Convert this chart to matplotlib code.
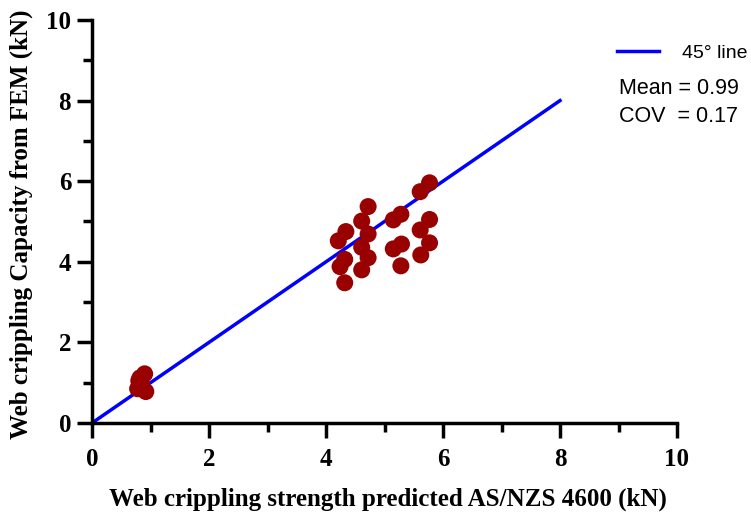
import numpy as np
import matplotlib.pyplot as plt
from matplotlib.ticker import MultipleLocator

# AS/NZS 4600 predicted strength (kN) vs FEM capacity (kN)
pred_kN = [0.80, 0.90, 0.78, 0.92, 0.85, 0.82,
           4.32, 4.24, 4.32, 4.21, 4.34, 4.61, 4.72, 4.72, 4.61, 4.72, 4.61,
           5.15, 5.28, 5.15, 5.29, 5.28, 5.61, 5.77, 5.61, 5.77, 5.62, 5.77]
fem_kN = [1.05, 1.22, 0.85, 0.78, 0.95, 1.12,
          3.48, 3.88, 4.06, 4.52, 4.75, 5.01, 5.37, 4.69, 4.36, 4.10, 3.80,
          5.04, 5.18, 4.32, 4.44, 3.90, 5.74, 5.96, 4.79, 5.05, 4.17, 4.47]
line_x = [0, 8]
line_y = [0, 8]
mean_val = 0.99
cov_val = 0.17

plt.rcParams['font.family'] = ['Liberation Serif', 'DejaVu Serif']

fig = plt.figure(figsize=(7.51, 5.16), dpi=100)
ax = fig.add_axes([92 / 751, 1 - 423 / 516, 585 / 751, 403 / 516])

ax.plot(line_x, line_y, color='#0000ff', lw=2.5, label='45° line', zorder=2)
ax.scatter(pred_kN, fem_kN, s=150, color='#990000', edgecolors='none', zorder=3)

ax.set_xlim(0, 10)
ax.set_ylim(0, 10)
ax.xaxis.set_major_locator(MultipleLocator(2))
ax.yaxis.set_major_locator(MultipleLocator(2))
ax.xaxis.set_minor_locator(MultipleLocator(1))
ax.yaxis.set_minor_locator(MultipleLocator(1))

for s in ['top', 'right']:
    ax.spines[s].set_visible(False)
for s in ['left', 'bottom']:
    ax.spines[s].set_linewidth(2.5)
ax.tick_params(which='major', length=11, width=2.5, labelsize=18)
ax.tick_params(which='minor', length=6.5, width=2.5)
ax.tick_params(axis='x', which='major', pad=7)
ax.tick_params(axis='y', which='major', pad=4)
for lab in ax.get_xticklabels() + ax.get_yticklabels():
    lab.set_fontweight('bold')

ax.set_xlabel('Web crippling strength predicted AS/NZS 4600 (kN)',
              fontsize=18, fontweight='bold')
ax.set_ylabel('Web crippling Capacity from FEM (kN)',
              fontsize=18, fontweight='bold')
ax.xaxis.set_label_coords(0.506, -0.161)
ax.yaxis.set_label_coords(-0.101, 0.4925)

ax.legend(loc='center left', bbox_to_anchor=(617 / 751, 1 - 53 / 516),
          bbox_transform=fig.transFigure, frameon=False, borderpad=0,
          borderaxespad=0, handlelength=2.15, handletextpad=1.2,
          prop={'family': 'Liberation Sans', 'size': 14})
fig.text(619 / 751, 1 - 88 / 516, f'Mean = {mean_val:.2f}', fontsize=15.5,
         family='Liberation Sans', va='center')
fig.text(619 / 751, 1 - 116 / 516, f'COV  = {cov_val:.2f}', fontsize=15.5,
         family='Liberation Sans', va='center')

fig.savefig('out.png', dpi=100)
